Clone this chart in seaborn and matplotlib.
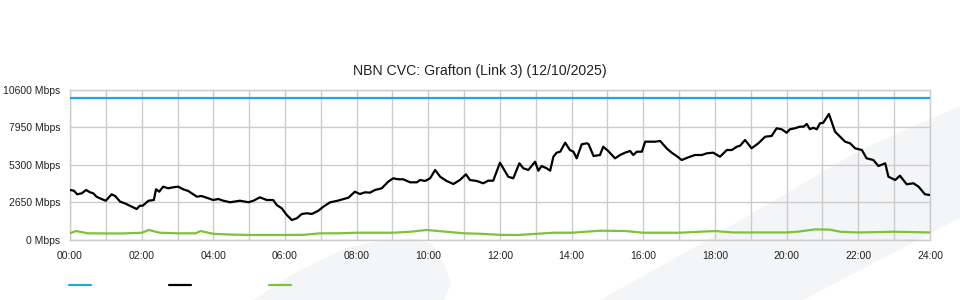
import matplotlib
matplotlib.use("Agg")
import matplotlib.pyplot as plt
from matplotlib.patches import Polygon
from matplotlib.lines import Line2D
import seaborn as sns
import pandas as pd

# ---------------- data ----------------
title = "NBN CVC: Grafton (Link 3) (12/10/2025)"
y_ticks = [0, 2650, 5300, 7950, 10600]
y_tick_labels = ["0 Mbps", "2650 Mbps", "5300 Mbps", "7950 Mbps", "10600 Mbps"]
x_ticks = list(range(0, 25, 2))
x_tick_labels = ["00:00", "02:00", "04:00", "06:00", "08:00", "10:00", "12:00",
                 "14:00", "16:00", "18:00", "20:00", "22:00", "24:00"]

# capacity (blue)
cap_hours = [0, 24]
cap_mbps = [10000, 10000]

# traffic (black)
traffic_hours = [
    0.00, 0.11, 0.20, 0.33, 0.45, 0.56, 0.65, 0.74, 0.88, 1.00, 1.16, 1.26, 1.40, 1.53, 1.67, 1.86,
    1.95, 2.03, 2.19, 2.34, 2.40, 2.49, 2.60, 2.74, 2.88, 3.02, 3.16, 3.30, 3.40, 3.54, 3.67, 3.81,
    4.00, 4.14, 4.28, 4.47, 4.74, 4.98, 5.12, 5.30, 5.49, 5.67, 5.77, 5.91, 6.05, 6.19, 6.33, 6.47,
    6.61, 6.75, 6.93, 7.07, 7.26, 7.44, 7.63, 7.77, 7.95, 8.09, 8.23, 8.37, 8.51, 8.70, 8.88, 9.02,
    9.16, 9.30, 9.49, 9.68, 9.77, 9.91, 10.05, 10.19, 10.33, 10.51, 10.70, 10.88, 11.05, 11.16,
    11.35, 11.53, 11.67, 11.81, 12.00, 12.23, 12.37, 12.54, 12.65, 12.79, 12.98, 13.07, 13.16,
    13.30, 13.40, 13.49, 13.58, 13.68, 13.82, 13.95, 14.05, 14.14, 14.28, 14.42, 14.47, 14.61,
    14.79, 14.88, 15.02, 15.21, 15.35, 15.49, 15.63, 15.72, 15.82, 15.96, 16.05, 16.19, 16.33,
    16.47, 16.65, 16.79, 16.93, 17.07, 17.26, 17.44, 17.63, 17.77, 17.95, 18.14, 18.33, 18.47,
    18.61, 18.70, 18.84, 19.02, 19.21, 19.40, 19.58, 19.72, 19.86, 20.00, 20.09, 20.23, 20.37,
    20.47, 20.56, 20.65, 20.74, 20.84, 20.93, 21.02, 21.18, 21.35, 21.49, 21.63, 21.77, 21.91,
    22.10, 22.23, 22.42, 22.56, 22.75, 22.84, 23.03, 23.16, 23.35, 23.54, 23.68, 23.86, 24.00]
traffic_mbps = [
    3510, 3460, 3205, 3275, 3510, 3345, 3275, 3035, 2870, 2750, 3205, 3085, 2680, 2565, 2395, 2160,
    2395, 2395, 2750, 2800, 3560, 3390, 3745, 3630, 3700, 3745, 3560, 3440, 3275, 3035, 3085, 2965,
    2800, 2870, 2750, 2640, 2750, 2640, 2750, 2990, 2800, 2800, 2445, 2210, 1735, 1380, 1505, 1810,
    1860, 1810, 2040, 2325, 2640, 2730, 2870, 2965, 3390, 3225, 3345, 3320, 3510, 3630, 4100, 4340,
    4270, 4270, 4055, 4055, 4220, 4150, 4340, 4930, 4450, 4150, 3935, 4220, 4620, 4220,
    4150, 3985, 4170, 4170, 5445, 4450, 4340, 5400, 5050, 4930, 5515, 4880, 5210,
    5050, 4880, 5870, 6155, 6225, 6865, 6345, 6225, 5755, 6750, 6820, 6770, 5920,
    5990, 6580, 6275, 5755, 5990, 6155, 6275, 5990, 6225, 6225, 6935, 6935, 6935,
    6985, 6465, 6155, 5920, 5635, 5830, 5990, 5990, 6110, 6155, 5870, 6345, 6345,
    6580, 6650, 7055, 6465, 6820, 7290, 7340, 7885, 7815, 7570, 7815, 7885, 8000,
    8000, 8190, 7815, 7925, 7815, 8240, 8280, 8900, 7645, 7290, 6935, 6820, 6465,
    6345, 5755, 5635, 5210, 5400, 4450, 4220, 4525, 3915, 3985, 3745, 3205, 3155]

# upload / other (green)
green_hours = [0, 0.17, 0.5, 1, 1.5, 2, 2.2, 2.5, 3, 3.5, 3.65, 4, 4.5, 5, 5.5, 6, 6.5, 7, 7.5,
               8, 8.5, 9, 9.5, 9.95, 10.5, 11, 11.5, 12, 12.5, 13, 13.5, 14, 14.8, 15.5, 16,
               17, 18, 18.5, 19, 20, 20.3, 20.8, 21.2, 21.5, 22, 23, 24]
green_mbps = [440, 600, 440, 430, 430, 480, 675, 480, 440, 440, 600, 400, 350, 320, 320, 320,
              330, 440, 440, 480, 480, 480, 550, 675, 550, 440, 400, 330, 320, 400, 480, 480,
              625, 600, 480, 480, 600, 500, 500, 500, 550, 720, 700, 550, 500, 550, 500]

# ---------------- style ----------------
sns.set_style("white")
plt.rcParams["font.family"] = ["Liberation Sans", "DejaVu Sans"]

BLUE = "#1ea7e1"
GREEN = "#7cc23a"
GRID = "#cccccc"

fig = plt.figure(figsize=(9.6, 3.0), dpi=100)
fig.patch.set_facecolor("white")

# watermark shapes (figure pixel coords -> fraction)
def fpoly(pts):
    return Polygon([(x / 960, 1 - y / 300) for x, y in pts], closed=True,
                   transform=fig.transFigure, facecolor="#f4f5f7", edgecolor="none", zorder=0)

fig.add_artist(fpoly([(600, 300), (690, 250), (860, 150), (960, 106), (960, 218), (803, 300)]))
fig.add_artist(fpoly([(253, 300), (300, 270), (346, 248), (380, 241), (413, 239), (432, 244),
                      (445, 265), (451, 285), (443, 300)]))

ax = fig.add_axes([70 / 960, 1 - 239.5 / 300, 860 / 960, 149.5 / 300])
ax.set_facecolor("none")
ax.set_zorder(1)

sns.lineplot(data=pd.DataFrame({"h": cap_hours, "v": cap_mbps}), x="h", y="v",
             ax=ax, color=BLUE, linewidth=1.6, zorder=3)
sns.lineplot(data=pd.DataFrame({"h": green_hours, "v": green_mbps}), x="h", y="v",
             ax=ax, color=GREEN, linewidth=1.6, zorder=3)
sns.lineplot(data=pd.DataFrame({"h": traffic_hours, "v": traffic_mbps}), x="h", y="v",
             ax=ax, color="black", linewidth=1.6, zorder=4)

ax.set_xlim(0, 24)
ax.set_ylim(0, 10600)
ax.set_xlabel("")
ax.set_ylabel("")

ax.set_xticks(x_ticks)
ax.set_xticklabels(x_tick_labels, fontsize=7.5, color="#222222")
ax.set_xticks(range(0, 25), minor=True)
ax.set_yticks(y_ticks)
ax.set_yticklabels(y_tick_labels, fontsize=7.5, color="#222222")

ax.grid(True, which="both", axis="x", color=GRID, linewidth=1.0, zorder=1)
ax.grid(True, which="major", axis="y", color=GRID, linewidth=1.0, zorder=1)
ax.set_axisbelow(True)
ax.tick_params(axis="x", which="major", length=7, width=1, color=GRID, pad=1.5)
ax.tick_params(axis="x", which="minor", length=0)
ax.tick_params(axis="y", which="both", length=0, pad=7)
for s in ax.spines.values():
    s.set_color(GRID)
    s.set_linewidth(1.0)

fig.text(0.5, 1 - 71 / 300, title, ha="center", va="center", fontsize=10.2, color="#222222")

# legend swatches without labels
for x0, c in [(69, BLUE), (169, "black"), (269, GREEN)]:
    fig.add_artist(Line2D([x0 / 960, (x0 + 22) / 960], [1 - 285 / 300] * 2,
                          transform=fig.transFigure, color=c, linewidth=1.6))

fig.savefig("out.png", dpi=100, facecolor="white")
